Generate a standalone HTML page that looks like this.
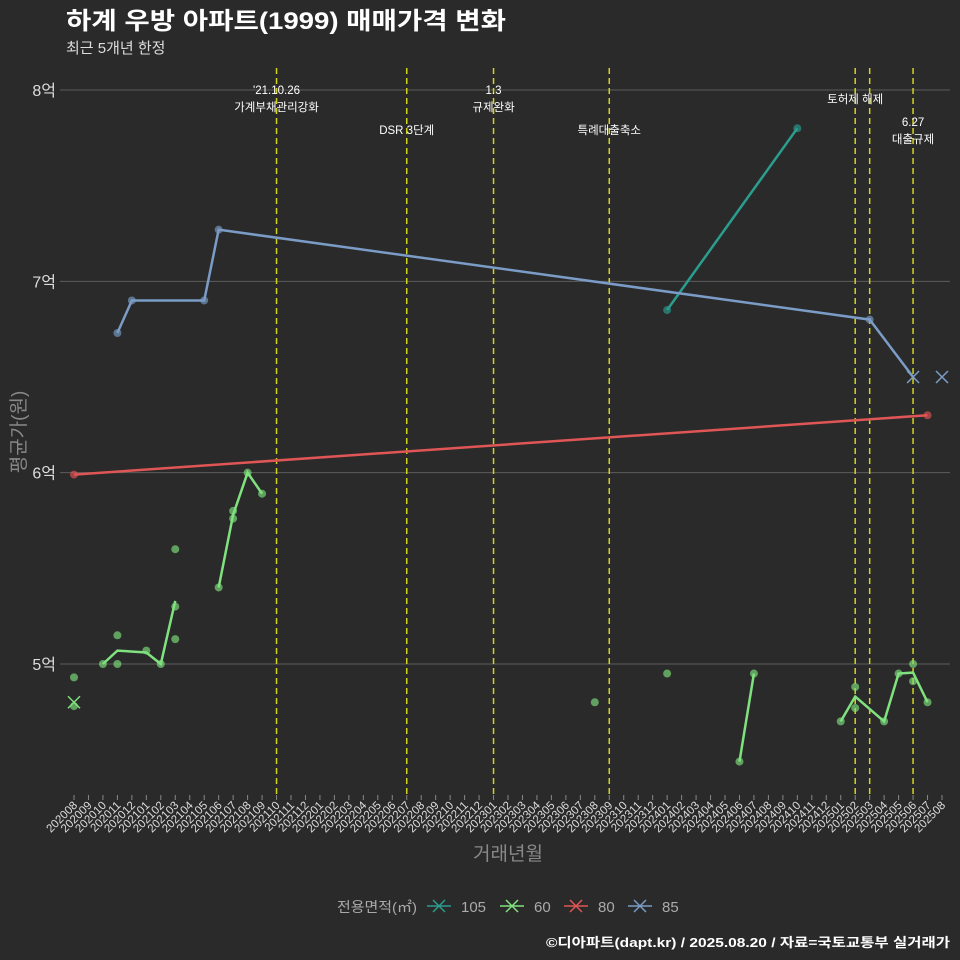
<!DOCTYPE html>
<html><head><meta charset="utf-8">
<style>
body{margin:0;background:#2a2a2a;}
svg{display:block;font-family:"Liberation Sans","Noto Sans CJK KR",sans-serif;}
</style></head>
<body>
<svg id="chart" width="960" height="960" viewBox="0 0 960 960">
<rect width="960" height="960" fill="#2a2a2a"/>
<text x="66" y="29" fill="#ffffff" font-size="24" font-weight="bold" textLength="440" lengthAdjust="spacingAndGlyphs">하계 우방 아파트(1999) 매매가격 변화</text>
<text x="66" y="53" fill="#dddddd" font-size="15">최근 5개년 한정</text>
<g id="grid"></g>
<g id="vlines"></g>
<g id="series"></g>
<g id="xaxis"></g>
<text x="508" y="860" fill="#888" font-size="19" text-anchor="middle">거래년월</text>
<text transform="translate(25,432) rotate(-90)" fill="#888" font-size="19" text-anchor="middle">평균가(원)</text>
<g>
<text x="337" y="912" fill="#aaa" font-size="14" textLength="80" lengthAdjust="spacingAndGlyphs">전용면적(㎡)</text>
<g id="legend"></g>
</g>
<text x="546" y="947" fill="#ffffff" font-size="13" font-weight="bold" textLength="404" lengthAdjust="spacingAndGlyphs">©디아파트(dapt.kr) / 2025.08.20 / 자료=국토교통부 실거래가</text>
</svg>
<script>
const months=[];for(let y=2020;y<=2025;y++)for(let m=1;m<=12;m++){const k=y*100+m;if(k>=202008&&k<=202508)months.push(String(k));}
const yTicks=[5,6,7,8];
const yTickLabels=["5억","6억","7억","8억"];
const eventMonths=["202110","202207","202301","202309","202502","202503","202506"];
const eventLabels=[["'21.10.26","가계부채관리강화"],["DSR 3단계"],["1.3","규제완화"],["특례대출축소"],["토허제 해제"],[],["6.27","대출규제"]];
const eventLabelY=[90,130,90,130,99,0,122];
const seriesNames=["105","60","80","85"];
const seriesColors=["#2a9d8f","#80e27e","#e05555","#7a9cc6"];
const line105=[["202401",6.85],["202410",7.80]];
const line60=[["202010",5.0],["202011",5.07],["202101",5.06],["202102",5.0],["202103",5.33],null,["202106",5.40],["202107",5.78],["202108",6.0],["202109",5.89],null,["202406",4.49],["202407",4.95],null,["202501",4.70],["202502",4.83],["202504",4.70],["202505",4.95],["202506",4.955],["202507",4.80]];
const line80=[["202008",5.99],["202507",6.30]];
const line85=[["202011",6.73],["202012",6.90],["202105",6.90],["202106",7.27],["202503",6.80],["202506",6.50]];
const dots105=[["202401",6.85],["202410",7.80]];
const dots60=[["202008",4.93],["202008",4.78],["202010",5.0],["202011",5.15],["202011",5.0],["202101",5.07],["202102",5.0],["202103",5.60],["202103",5.30],["202103",5.13],["202106",5.40],["202107",5.80],["202107",5.76],["202108",6.0],["202109",5.89],["202308",4.80],["202401",4.95],["202406",4.49],["202407",4.95],["202501",4.70],["202502",4.88],["202502",4.77],["202504",4.70],["202505",4.95],["202506",5.0],["202506",4.91],["202507",4.80]];
const dots80=[["202008",5.99],["202507",6.30]];
const dots85=[["202011",6.73],["202012",6.90],["202105",6.90],["202106",7.27],["202503",6.80]];
const crosses=[["202008",4.80,1],["202506",6.50,3],["202508",6.50,3]];

const NS="http://www.w3.org/2000/svg";
const X=m=>74+months.indexOf(m)*(868/60);
const Y=v=>90+(8-v)*191.33;
function el(t,a,p){const e=document.createElementNS(NS,t);for(const k in a)e.setAttribute(k,a[k]);p.appendChild(e);return e;}
const grid=document.getElementById('grid');
yTicks.forEach((v,i)=>{
 const l=el('line',{x1:60,x2:950,y1:Y(v),y2:Y(v),stroke:'#5c5c5c','stroke-width':1},grid);
 
 
 const t=el('text',{x:56,y:Y(v)+6,fill:'#ddd','font-size':16,'text-anchor':'end'},grid);
 t.textContent=yTickLabels[i];
 
 
});
const vl=document.getElementById('vlines');
eventMonths.forEach((m,i)=>{
 const l=el('line',{x1:X(m),x2:X(m),y1:68,y2:795,stroke:'#d4d41c','stroke-width':1.5,'stroke-dasharray':'6,4'},vl);
 
 
 eventLabels[i].forEach((s,j)=>{
  const t=el('text',{x:X(m),y:eventLabelY[i]+4+j*17,fill:'#fff','font-size':11.5,'text-anchor':'middle'},vl);
  t.textContent=s;
  
  
 });
});
const xa=document.getElementById('xaxis');
months.forEach(m=>{
 el('line',{x1:X(m),x2:X(m),y1:795,y2:800,stroke:'#888'},xa);
 const t=el('text',{transform:`translate(${X(m)+4},${806}) rotate(-45)`,fill:'#ddd','font-size':11.5,'text-anchor':'end'},xa);
 t.textContent=m;
 
 
});
const sg=document.getElementById('series');
const lines=[line105,line60,line80,line85], dots=[dots105,dots60,dots80,dots85];
dots.forEach((ds,si)=>ds.forEach(p=>{
 const c=el('circle',{cx:X(p[0]),cy:Y(p[1]),r:4,fill:seriesColors[si],'fill-opacity':0.65},sg);
 
 
}));
lines.forEach((ls,si)=>{
 let segs=[[]];ls.forEach(p=>{if(p===null)segs.push([]);else segs[segs.length-1].push(p);});
 segs.forEach(sgm=>{if(sgm.length<2)return;
  const pl=el('polyline',{points:sgm.map(p=>X(p[0])+','+Y(p[1])).join(' '),fill:'none',stroke:seriesColors[si],'stroke-width':2.5},sg);
  
  
 });
});
crosses.forEach(c=>{
 const x=X(c[0]),y=Y(c[1]),g=el('g',{},sg);
 
 
 const col=seriesColors[c[2]];
 el('path',{d:`M${x-6},${y-6}L${x+6},${y+6}M${x+6},${y-6}L${x-6},${y+6}`,stroke:col,'stroke-width':1.5},g);
});
const lg=document.getElementById('legend');
const lx=[427,500,564,628];
seriesNames.forEach((n,i)=>{
 const g=el('g',{},lg);
 
 
 const x=lx[i];
 el('line',{x1:x,x2:x+24,y1:906,y2:906,stroke:seriesColors[i],'stroke-width':1.5},g);
 el('path',{d:`M${x+6},${900}L${x+18},${912}M${x+18},${900}L${x+6},${912}`,stroke:seriesColors[i],'stroke-width':1.5},g);
 const t=el('text',{x:x+34,y:912,fill:'#aaa','font-size':15},g);t.textContent=n;
});
</script>
</body></html>
